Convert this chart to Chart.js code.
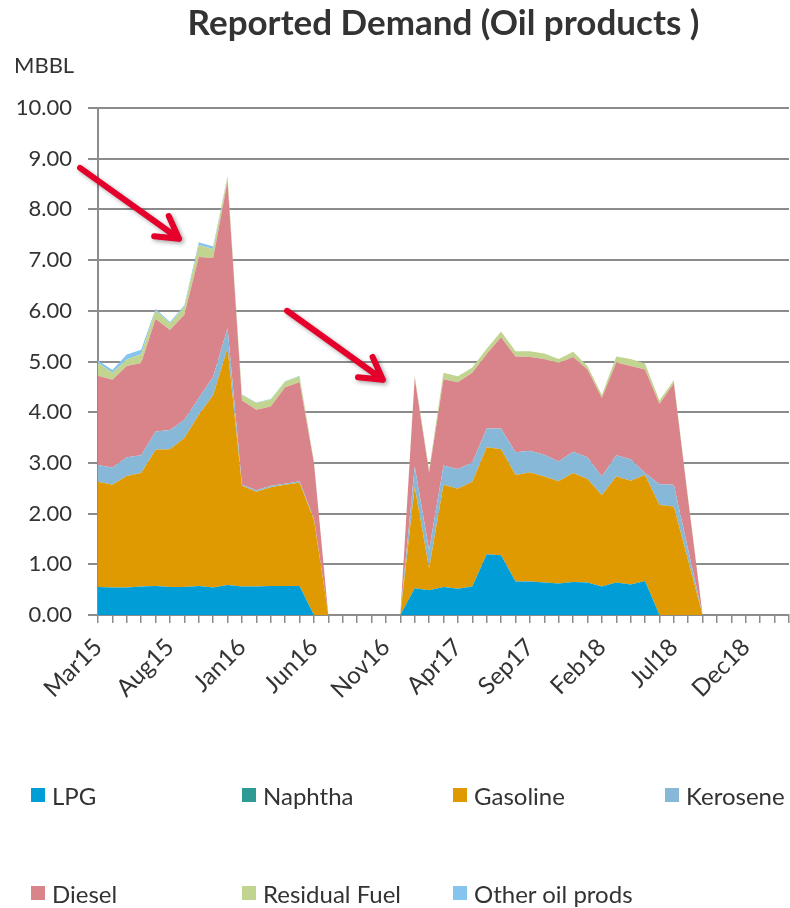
<!DOCTYPE html>
<html>
<head>
<meta charset="utf-8">
<script src="https://cdn.jsdelivr.net/npm/chart.js@4.4.1/dist/chart.umd.min.js"></script>
<style>
  body { margin: 0; background: #fff; }
  #wrap { position: relative; width: 790px; height: 908px; }
  #legend { position: absolute; left: 0; top: 0; width: 790px; height: 908px; pointer-events: none; }
  .item { position: absolute; height: 30px; display: flex; align-items: center;
          font-family: Lato, sans-serif; font-size: 24px; color: #333; white-space: nowrap; }
  .item span.box { width: 14px; height: 14px; margin-right: 7px; display: inline-block; }
</style>
</head>
<body>
<div id="wrap">
  <canvas id="areaChart" width="790" height="700" style="width:790px;height:700px"></canvas>
  <div id="legend"></div>
</div>
<script>
const months = ['Mar15','Apr15','May15','Jun15','Jul15','Aug15','Sep15','Oct15','Nov15','Dec15',
  'Jan16','Feb16','Mar16','Apr16','May16','Jun16','Jul16','Aug16','Sep16','Oct16','Nov16','Dec16',
  'Jan17','Feb17','Mar17','Apr17','May17','Jun17','Jul17','Aug17','Sep17','Oct17','Nov17','Dec17',
  'Jan18','Feb18','Mar18','Apr18','May18','Jun18','Jul18','Aug18','Sep18','Oct18','Nov18','Dec18',
  'Jan19','Feb19','Mar19'];

const lpg = [0.55,0.54,0.54,0.56,0.57,0.55,0.55,0.57,0.54,0.59,0.56,0.56,0.57,0.57,0.57,0,
  0,0,0,0,0,0,
  0.53,0.49,0.55,0.52,0.56,1.20,1.18,0.66,0.66,0.64,0.62,0.65,0.64,0.56,0.64,0.60,0.67,0,0,0,0,
  null,null,null,null,null,null];
const naphtha = [0,0,0,0,0,0,0,0,0,0,0,0,0,0,0,0,
  0,0,0,0,0,0,
  0,0,0,0,0,0,0,0,0,0,0,0,0,0,0,0,0,0,0,0,0,
  null,null,null,null,null,null];
const gasoline = [2.08,2.03,2.20,2.24,2.69,2.72,2.94,3.38,3.80,4.67,1.99,1.87,1.95,2.00,2.04,1.88,
  0,0,0,0,0,0,
  2.00,0.43,2.02,1.97,2.07,2.11,2.09,2.10,2.15,2.09,2.02,2.15,2.04,1.80,2.09,2.05,2.09,2.17,2.14,1.07,0,
  null,null,null,null,null,null];
const kerosene = [0.33,0.34,0.37,0.35,0.36,0.38,0.36,0.33,0.36,0.40,0.02,0.03,0.03,0.02,0.03,0.02,
  0,0,0,0,0,0,
  0.40,0.36,0.38,0.39,0.38,0.37,0.41,0.45,0.43,0.43,0.39,0.42,0.43,0.37,0.42,0.42,0.04,0.41,0.43,0.21,0,
  null,null,null,null,null,null];
const diesel = [1.76,1.73,1.80,1.82,2.22,1.97,2.07,2.78,2.34,2.89,1.66,1.59,1.56,1.90,1.95,1.10,
  0,0,0,0,0,0,
  1.74,1.53,1.70,1.71,1.77,1.47,1.80,1.89,1.85,1.89,1.94,1.87,1.73,1.55,1.83,1.84,2.04,1.58,2.00,0.98,0,
  null,null,null,null,null,null];
const residual = [0.25,0.14,0.13,0.18,0.17,0.13,0.16,0.24,0.18,0.10,0.11,0.13,0.14,0.11,0.12,0.03,
  0,0,0,0,0,0,
  0.05,0.06,0.13,0.12,0.10,0.10,0.11,0.10,0.11,0.11,0.08,0.10,0.07,0.06,0.12,0.14,0.12,0.07,0.06,0.03,0,
  null,null,null,null,null,null];
const otherProds = [0.05,0.05,0.10,0.08,0.03,0.03,0.03,0.05,0.05,0.01,0.01,0.01,0.01,0.01,0.01,0,
  0,0,0,0,0,0,
  0,0,0,0,0,0,0,0,0,0,0,0,0,0,0,0,0,0,0,0,0,
  null,null,null,null,null,null];

const yTicks = [0,1,2,3,4,5,6,7,8,9,10];

// red arrows on the picture, in [category index, value]
const arrowNotes = [
  { from: [-1.25, 8.82], to: [5.63, 7.42] },
  { from: [13.13, 6.0], to: [19.79, 4.64] }
];

const textColor = '#333';
const gridColor = '#8c8c8c';
const font = 'Lato, sans-serif';

function series(label, data, color, fill) {
  return {
    label: label,
    data: data,
    backgroundColor: color,
    borderColor: 'rgba(0,0,0,0)',
    borderWidth: 0,
    pointRadius: 0,
    tension: 0,
    fill: fill
  };
}

const arrowPlugin = {
  id: 'arrows',
  afterDatasetsDraw(chart) {
    const ctx = chart.ctx;
    const xs = chart.scales.x, ys = chart.scales.y;
    ctx.save();
    ctx.strokeStyle = '#e4002b';
    ctx.lineWidth = 6;
    ctx.lineCap = 'round';
    ctx.lineJoin = 'round';
    ctx.shadowColor = 'rgba(0,0,0,0.35)';
    ctx.shadowBlur = 4;
    ctx.shadowOffsetX = 2;
    ctx.shadowOffsetY = 2;
    arrowNotes.forEach(a => {
      const x1 = xs.getPixelForValue(a.from[0]), y1 = ys.getPixelForValue(a.from[1]);
      const x2 = xs.getPixelForValue(a.to[0]), y2 = ys.getPixelForValue(a.to[1]);
      const ang = Math.atan2(y2 - y1, x2 - x1);
      const len = 25;
      ctx.beginPath();
      ctx.moveTo(x1, y1);
      ctx.lineTo(x2, y2);
      ctx.moveTo(x2 - len * Math.cos(ang - Math.PI / 6), y2 - len * Math.sin(ang - Math.PI / 6));
      ctx.lineTo(x2, y2);
      ctx.lineTo(x2 - len * Math.cos(ang + Math.PI / 6), y2 - len * Math.sin(ang + Math.PI / 6));
      ctx.stroke();
    });
    ctx.restore();
  }
};

const unitPlugin = {
  id: 'unitLabel',
  afterDraw(chart) {
    const ctx = chart.ctx;
    ctx.save();
    ctx.fillStyle = textColor;
    ctx.font = '22px ' + font;
    ctx.textAlign = 'left';
    ctx.textBaseline = 'middle';
    ctx.fillText('MBBL', 14, chart.chartArea.top - 42);
    ctx.restore();
  }
};

const ctx = document.getElementById('areaChart').getContext('2d');
const myChart = new Chart(ctx, {
  type: 'line',
  data: {
    labels: months,
    datasets: [
      series('LPG', lpg, '#009dd6', 'origin'),
      series('Naphtha', naphtha, '#2e9a94', '-1'),
      series('Gasoline', gasoline, '#de9a00', '-1'),
      series('Kerosene', kerosene, '#88b8d8', '-1'),
      series('Diesel', diesel, '#d9848a', '-1'),
      series('Residual Fuel', residual, '#c2d590', '-1'),
      series('Other oil prods', otherProds, '#84c4ee', '-1')
    ]
  },
  options: {
    responsive: false,
    animation: false,
    layout: { padding: { left: 0, right: 1, top: 0, bottom: 0 } },
    plugins: {
      legend: { display: false },
      tooltip: { enabled: false },
      title: {
        display: true,
        text: 'Reported Demand (Oil products )',
        fullSize: false,
        color: textColor,
        font: { family: font, size: 35, weight: 'bold' },
        padding: { top: 3, bottom: 63 }
      }
    },
    scales: {
      x: {
        offset: false,
        grid: { drawOnChartArea: false, drawTicks: true, tickLength: 8, color: gridColor, lineWidth: 1.5 },
        border: { color: gridColor, width: 2 },
        ticks: {
          autoSkip: false,
          minRotation: 45,
          maxRotation: 45,
          padding: 10,
          color: textColor,
          font: { family: font, size: 24 },
          callback: (v, i) => (i % 5 === 0 ? months[i] : '')
        },
        afterFit: (scale) => {
          scale.height = 85;
          scale.paddingRight = 0;
        }
      },
      y: {
        stacked: true,
        min: 0,
        max: 10,
        afterBuildTicks: (scale) => { scale.ticks = yTicks.map(v => ({ value: v })); },
        grid: { color: gridColor, lineWidth: 2, tickLength: 10 },
        border: { color: gridColor, width: 2 },
        ticks: {
          padding: 16,
          color: textColor,
          font: { family: font, size: 22 },
          callback: (v) => Number(v).toFixed(2)
        },
        afterFit: (scale) => { scale.width = 98; }
      }
    }
  },
  plugins: [arrowPlugin, unitPlugin]
});

// legend in the fixed four-column layout of the picture
const legendEl = document.getElementById('legend');
const colLeft = [31, 242, 453, 665];
const rowMid = [795, 893];
myChart.data.datasets.forEach((ds, i) => {
  const item = document.createElement('div');
  item.className = 'item';
  item.style.left = colLeft[i % 4] + 'px';
  item.style.top = (rowMid[Math.floor(i / 4)] - 15) + 'px';
  const box = document.createElement('span');
  box.className = 'box';
  box.style.background = ds.backgroundColor;
  item.appendChild(box);
  item.appendChild(document.createTextNode(ds.label));
  legendEl.appendChild(item);
});
</script>
</body>
</html>
